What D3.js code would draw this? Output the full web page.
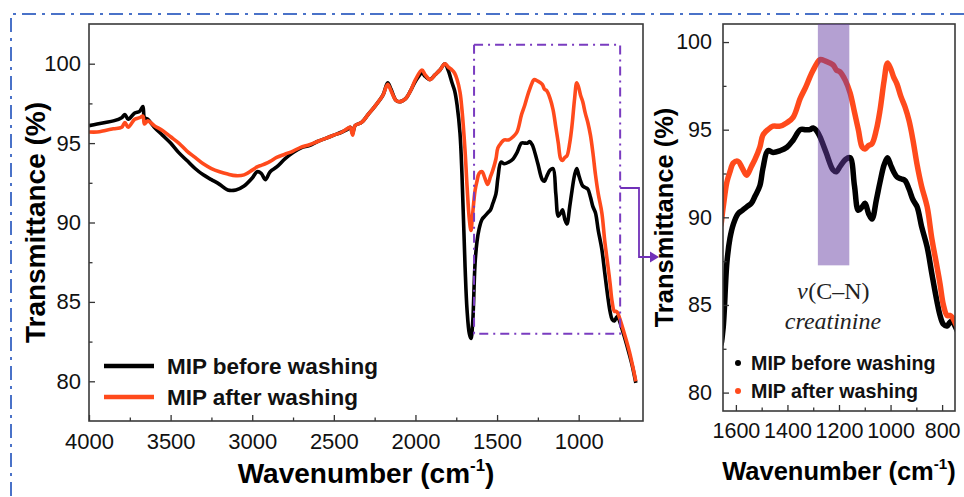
<!DOCTYPE html>
<html><head><meta charset="utf-8">
<script src="https://cdn.jsdelivr.net/npm/d3@7/dist/d3.min.js"></script>
<style>
html,body{margin:0;padding:0;background:#fff;}
svg{display:block;font-family:"Liberation Sans",Arial,sans-serif;}
</style></head>
<body>
<svg id="c" width="964" height="497"></svg>
<script>
// ---------- data ----------
const wavenumber = [4000,3950,3900,3850,3800,3780,3760,3720,3690,3670,3660,3640,3600,3550,3500,3450,3400,3350,3300,3250,3200,3150,3100,3050,3000,2970,2945,2920,2890,2850,2800,2750,2700,2650,2600,2550,2500,2450,2420,2400,2385,2370,2330,2290,2250,2200,2170,2150,2120,2100,2060,2030,2000,1960,1940,1910,1880,1850,1820,1800,1776,1760,1745,1727,1715,1696,1684,1670,1660,1650,1635,1623,1610,1592,1575,1558,1540,1526,1507,1495,1476,1456,1429,1402,1378,1350,1330,1313,1300,1285,1274,1250,1223,1210,1196,1175,1157,1140,1125,1110,1099,1085,1072,1055,1041,1025,1012,1000,988,975,960,944,928,913,897,880,858,840,820,808,795,781,770,761,750,720,690,670,650];
const beforeWashing = [96.1,96.2,96.3,96.4,96.6,96.8,96.5,96.9,97.0,97.3,96.6,96.5,96.0,95.5,95.0,94.4,93.9,93.4,93.0,92.7,92.4,92.05,92.05,92.3,92.8,93.2,93.1,92.7,93.2,93.5,94.0,94.4,94.7,94.85,95.1,95.3,95.5,95.7,95.85,96.0,95.6,96.1,96.3,96.8,97.3,98.0,98.8,98.4,97.7,97.6,97.8,98.3,98.9,99.4,99.2,99.0,99.3,99.6,100.0,99.6,98.8,98.3,97.4,95.6,93.0,87.2,84.5,83.0,82.7,83.6,87.4,88.8,89.6,90.2,90.4,90.6,90.8,91.2,91.8,92.8,93.8,93.7,93.8,94.0,94.4,95.0,95.0,95.0,95.1,94.9,94.6,93.7,92.7,92.6,92.9,93.3,93.4,91.8,90.4,90.6,90.8,90.2,89.9,91.0,92.0,93.0,93.4,93.0,92.6,92.3,92.2,92.1,91.6,91.0,90.6,89.5,88.3,86.8,85.2,84.4,83.9,83.8,84.0,84.1,83.8,82.8,81.7,80.9,79.9];
const afterWashing = [95.7,95.7,95.8,95.9,96.0,96.3,96.0,96.5,96.6,96.7,96.2,96.4,96.1,95.8,95.4,95.0,94.5,94.1,93.7,93.4,93.2,93.05,92.95,93.0,93.3,93.5,93.6,93.7,93.85,94.1,94.3,94.5,94.75,94.9,95.1,95.3,95.5,95.7,95.9,96.0,95.5,96.1,96.3,96.8,97.3,98.0,98.7,98.3,97.7,97.6,97.8,98.3,99.0,99.6,99.3,99.0,99.3,99.6,100.0,99.8,99.6,99.4,99.0,98.2,97.1,94.5,92.3,90.2,89.5,90.5,92.0,92.6,93.1,93.2,92.8,92.4,92.9,93.3,94.0,94.7,95.0,95.2,95.2,95.4,95.7,96.8,97.4,98.0,98.4,98.8,99.0,98.9,98.7,98.4,98.3,97.8,97.1,96.0,95.0,94.0,93.9,94.1,94.2,95.0,96.1,97.8,98.8,98.5,98.0,97.6,96.9,96.3,95.5,94.4,93.0,91.8,90.6,88.8,87.2,86.2,85.0,84.4,84.4,84.3,84.0,83.0,81.9,81.0,80.0];
const seriesNames = ["MIP before washing","MIP after washing"];
const seriesColors = ["#000000","#ff4a1c"];
const mainXTicks = [4000,3500,3000,2500,2000,1500,1000];
const mainYTicks = [80,85,90,95,100];
const insetXTicks = [1600,1400,1200,1000,800];
const insetYTicks = [80,85,90,95,100];
const bandRange = [1282,1160];
const bandTop = 101.03, bandBottom = 87.26;
const annotationSymbol = "\u03bd";
const annotation = ["(C\u2013N)","creatinine"];
const xTitle = "Wavenumber (cm";
const yTitle = "Transmittance (%)";

const rows = wavenumber.map((w,i)=>({w, b:beforeWashing[i], a:afterWashing[i]}));
const svg = d3.select("#c");

// ---------- outer dash-dot frame ----------
svg.append("path").attr("d","M964,14 H11 V497")
  .attr("fill","none").attr("stroke","#4a72c8").attr("stroke-width",2)
  .attr("stroke-dasharray","14,6,3,6");

function panel(opt){
  const {x0,x1,y0,y1,xdom,ydom,xt,yt,xminor,yminor,lw,tickFs,titleFs,id} = opt;
  const x = d3.scaleLinear().domain(xdom).range([x0,x1]);
  const y = d3.scaleLinear().domain(ydom).range([y1,y0]);
  const g = svg.append("g");
  g.append("clipPath").attr("id",id).append("rect")
    .attr("x",x0).attr("y",y0).attr("width",x1-x0).attr("height",y1-y0);
  const line = k => d3.line().x(d=>x(d.w)).y(d=>y(d[k])).curve(d3.curveCatmullRom.alpha(0.5));
  const lg = g.append("g").attr("clip-path",`url(#${id})`);
  lg.append("path").datum(rows).attr("d",line("b")).attr("fill","none")
    .attr("stroke",seriesColors[0]).attr("stroke-width",lw).attr("stroke-linejoin","round");
  lg.append("path").datum(rows).attr("d",line("a")).attr("fill","none")
    .attr("stroke",seriesColors[1]).attr("stroke-width",lw).attr("stroke-linejoin","round");
  // axes
  const ax = g.append("g").attr("transform",`translate(0,${y1})`)
    .call(d3.axisBottom(x).tickValues(xt).tickSize(-6).tickPadding(12).tickFormat(d3.format("d")));
  const axm = g.append("g").attr("transform",`translate(0,${y1})`)
    .call(d3.axisBottom(x).tickValues(xminor).tickSize(-3.5).tickFormat(""));
  const ay = g.append("g").attr("transform",`translate(${x0},0)`)
    .call(d3.axisLeft(y).tickValues(yt).tickSize(-6).tickPadding(opt.ypad).tickFormat(d3.format("d")));
  const aym = g.append("g").attr("transform",`translate(${x0},0)`)
    .call(d3.axisLeft(y).tickValues(yminor).tickSize(-3.5).tickFormat(""));
  [ax,axm,ay,aym].forEach(a=>{
    a.select(".domain").remove();
    a.selectAll("line").attr("stroke","#333").attr("stroke-width",1.3);
    a.selectAll("text").attr("font-size",tickFs).attr("fill","#111")
      .attr("font-family","'Liberation Sans',Arial,sans-serif");
  });
  g.append("rect").attr("x",x0).attr("y",y0).attr("width",x1-x0).attr("height",y1-y0)
    .attr("fill","none").attr("stroke","#3a3a3a").attr("stroke-width",1.6);
  // titles
  const xtT = g.append("text").attr("x",(x0+x1)/2).attr("y",opt.xTitleY)
    .attr("text-anchor","middle").attr("font-weight","bold").attr("font-size",titleFs).attr("fill","#000");
  xtT.append("tspan").text(xTitle);
  xtT.append("tspan").text("-1").attr("font-size",titleFs*0.6).attr("dy",-titleFs*0.42);
  xtT.append("tspan").text(")").attr("dy",titleFs*0.42);
  g.append("text").attr("transform",`translate(${opt.yTitleX},${(y0+y1)/2}) rotate(-90)`)
    .attr("text-anchor","middle").attr("font-weight","bold").attr("font-size",titleFs).attr("fill","#000")
    .text(yTitle);
  return {x,y,g};
}

// ---------- main panel ----------
const M = panel({id:"clipM",x0:89,x1:643,y0:24,y1:421,xdom:[4000,606],ydom:[77.5,102.5],
  xt:mainXTicks,yt:mainYTicks,xminor:[3750,3250,2750,2250,1750,1250,750],yminor:[82.5,87.5,92.5,97.5],
  lw:3.6,tickFs:22,titleFs:28,ypad:8,xTitleY:483,yTitleX:45});

// legend main
seriesNames.forEach((n,i)=>{
  const yy = 366 + i*31;
  M.g.append("line").attr("x1",104).attr("x2",154).attr("y1",yy).attr("y2",yy)
    .attr("stroke",seriesColors[i]).attr("stroke-width",4.5);
  M.g.append("text").attr("x",167).attr("y",yy+8).attr("font-size",22.5).attr("font-weight","bold")
    .attr("fill","#111").text(n);
});

// zoom box (dash-dot) around the inset region
const boxW = [1641,746], boxT = [83.0,101.2];
const bx0 = M.x(boxW[0]), bx1 = M.x(boxW[1]), by0 = M.y(boxT[1]), by1 = M.y(boxT[0]);
M.g.append("rect").attr("x",bx0).attr("y",by0).attr("width",bx1-bx0).attr("height",by1-by0)
  .attr("fill","none").attr("stroke","#7a3cc0").attr("stroke-width",2).attr("stroke-dasharray","9,5,2,5");

// arrow
const arrowY0 = 188, arrowY1 = 257, arrowX = 639;
svg.append("path").attr("d",`M${bx1},${arrowY0} H${arrowX} V${arrowY1} H651`)
  .attr("fill","none").attr("stroke","#7030b8").attr("stroke-width",1.8);
svg.append("path").attr("d",`M650,${arrowY1-5.5} L659,${arrowY1} L650,${arrowY1+5.5} Z`).attr("fill","#7030b8");

// ---------- inset panel ----------
const I = panel({id:"clipI",x0:723,x1:955,y0:24,y1:411,xdom:[1650,750],ydom:[78.95,101.03],
  xt:insetXTicks,yt:insetYTicks,xminor:[1500,1300,1100,900],yminor:[82.5,87.5,92.5,97.5],
  lw:5.5,tickFs:21.5,titleFs:25.5,ypad:11,xTitleY:480,yTitleX:673});

// band overlay
I.g.append("rect").attr("x",I.x(bandRange[0])).attr("y",I.y(bandTop))
  .attr("width",I.x(bandRange[1])-I.x(bandRange[0])).attr("height",I.y(bandBottom)-I.y(bandTop))
  .attr("fill","rgb(102,61,163)").attr("fill-opacity",0.49);

// annotation: italic nu followed by (C–N), as two adjacent texts
const serif = "'Liberation Serif','Times New Roman',serif";
const aCx = 833, aY = 299, aFs = 24;
const partB = I.g.append("text").attr("y",aY).attr("font-family",serif).attr("font-size",aFs)
  .attr("fill","#222").text(annotation[0]);
const partA = I.g.append("text").attr("y",aY).attr("font-family",serif).attr("font-size",aFs)
  .attr("font-style","italic").attr("fill","#222").text(annotationSymbol);
const wA = partA.node().getComputedTextLength(), wB = partB.node().getComputedTextLength();
const aStart = aCx - (wA + wB)/2;
partA.attr("x",aStart);
partB.attr("x",aStart + wA + 0.5);
I.g.append("text").attr("x",aCx).attr("y",329).attr("text-anchor","middle")
  .attr("font-family",serif).attr("font-style","italic")
  .attr("font-size",aFs).attr("fill","#222").text(annotation[1]);

// inset legend
seriesNames.forEach((n,i)=>{
  const yy = 363 + i*28;
  I.g.append("circle").attr("cx",738).attr("cy",yy).attr("r",3).attr("fill",seriesColors[i]);
  I.g.append("text").attr("x",751).attr("y",yy+7).attr("font-size",19.7).attr("font-weight","bold")
    .attr("fill","#111").text(n);
});
</script>
</body></html>
